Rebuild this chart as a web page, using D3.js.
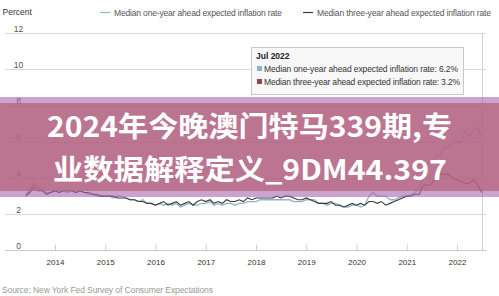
<!DOCTYPE html>
<html>
<head>
<meta charset="utf-8">
<script src="https://cdn.jsdelivr.net/npm/d3@7"></script>
<style>
  body { margin: 0; background: #fff; }
  svg { display: block; font-family: "Liberation Sans", Arial, sans-serif; }
</style>
</head>
<body>
<div id="chart"></div>
<script>
// monthly, Jun 2013 .. Jul 2022
var startMonth = new Date(2013, 5, 1);
var oneYear = [
  3.1, 3.3, 3.7, 3.5, 3.3, 3.2, 3.2,
  3.3, 3.2, 3.3, 3.2, 3.3, 3.2, 3.3, 3.2, 3.1, 3.1, 3.0, 3.0,
  3.0, 3.0, 2.9, 3.0, 3.0, 2.9, 2.8, 2.8, 2.7, 2.8, 2.6, 2.6,
  2.5, 2.6, 2.5, 2.6, 2.5, 2.6, 2.4, 2.5, 2.6, 2.5, 2.5, 2.6,
  2.6, 2.7, 2.5, 2.6, 2.5, 2.6, 2.6, 2.5, 2.6, 2.6, 2.7, 2.7,
  2.7, 2.8, 2.8, 2.8, 2.8, 2.8, 2.8, 2.8, 2.8, 2.7, 2.7, 2.7,
  2.8, 2.8, 2.8, 2.6, 2.6, 2.5, 2.6, 2.6, 2.5, 2.4, 2.4, 2.5,
  2.5, 2.4, 2.5, 3.0, 3.2, 3.0, 3.0, 3.0, 2.8, 2.8, 2.9, 3.0,
  3.0, 3.1, 3.2, 3.4, 4.0, 4.8, 4.8, 5.2, 5.3, 5.7, 5.7, 6.0,
  6.0, 6.0, 6.6, 6.3, 6.6, 6.8, 6.2
];
var threeYear = [
  3.0, 3.2, 3.5, 3.3, 3.3, 3.1, 3.2,
  3.3, 3.2, 3.3, 3.3, 3.3, 3.2, 3.3, 3.2, 3.2, 3.1, 3.1, 3.0,
  3.0, 3.0, 3.0, 2.9, 2.9, 2.9, 2.8, 2.8, 2.7, 2.7, 2.6, 2.6,
  2.5, 2.6, 2.7, 2.5, 2.6, 2.7, 2.5, 2.6, 2.7, 2.5, 2.7, 2.8,
  2.7, 2.8, 2.6, 2.7, 2.6, 2.8, 2.7, 2.7, 2.8, 2.7, 2.9, 2.8,
  2.9, 2.9, 2.9, 2.9, 2.9, 3.0, 2.9, 3.0, 3.0, 2.9, 2.8, 2.8,
  2.9, 2.8, 2.7, 2.6, 2.6, 2.6, 2.7, 2.5, 2.5, 2.4, 2.5, 2.6,
  2.5, 2.6, 2.5, 2.7, 2.7, 2.6, 2.7, 2.5, 2.6, 2.7, 2.8, 2.9,
  3.0, 3.0, 3.1, 3.1, 3.6, 3.6, 3.7, 4.0, 4.2, 4.2, 4.2, 4.0,
  3.9, 3.8, 3.7, 3.7, 3.9, 3.6, 3.2
];
var yTicks = [0, 2, 4, 6, 8, 10, 12];
var xYears = [2014, 2015, 2016, 2017, 2018, 2019, 2020, 2021, 2022];
var seriesNames = ["Median one-year ahead expected inflation rate", "Median three-year ahead expected inflation rate"];
var tipTitle = "Jul 2022";
var bannerLines = ["2024年今晚澳门特马339期,专", "业数据解释定义_9DM44.397"];

var width = 499, height = 296;
var svg = d3.select('#chart').append('svg').attr('width', width).attr('height', height);

var x = d3.scaleTime().domain([new Date(2014, 0, 1), new Date(2022, 0, 1)]).range([55, 457]);
var y = d3.scaleLinear().domain([0, 12]).range([250.5, 33]);
var left = 5, right = 486;

function monthDate(i) { return new Date(startMonth.getFullYear(), startMonth.getMonth() + i, 1); }

// gridlines + y labels
svg.selectAll('line.grid').data(yTicks.filter(function (d) { return d > 0; })).enter().append('line')
  .attr('x1', left).attr('x2', right)
  .attr('y1', function (d) { return Math.round(y(d)) + 0.5; })
  .attr('y2', function (d) { return Math.round(y(d)) + 0.5; })
  .style('stroke', '#d9d9d9');
svg.selectAll('text.ylab').data(yTicks).enter().append('text')
  .attr('x', 18.5).attr('y', function (d) { return y(d) - 1.5; })
  .attr('text-anchor', 'middle').style('font-size', '8.5px').style('fill', '#555')
  .text(function (d) { return d; });

// x axis
var xAxis = d3.axisBottom(x).tickValues(xYears.map(function (d) { return new Date(d, 0, 1); }))
  .tickSize(-6).tickPadding(9).tickFormat(d3.timeFormat('%Y'));
var ax = svg.append('g').attr('transform', 'translate(0,250.5)').call(xAxis);
ax.select('.domain').remove();
ax.append('line').attr('x1', left).attr('x2', right).style('stroke', '#c8c8c8');
ax.selectAll('.tick line').style('stroke', '#d0d0d0');
ax.selectAll('.tick text').style('font-size', '8px').style('fill', '#333')
  .style('font-family', '"Liberation Sans", Arial, sans-serif');

// crosshair
var lastX = x(monthDate(oneYear.length - 1));
svg.append('line').attr('x1', Math.round(lastX) + 0.5).attr('x2', Math.round(lastX) + 0.5)
  .attr('y1', 33).attr('y2', 250.5).style('stroke', '#cfcfcf');

// lines
var line = d3.line().x(function (d, i) { return x(monthDate(i)); }).y(function (d) { return y(d); });
svg.append('path').datum(oneYear).attr('d', line)
  .style('fill', 'none').style('stroke', '#8fb4cb').style('stroke-width', 1.3);
svg.append('path').datum(threeYear).attr('d', line)
  .style('fill', 'none').style('stroke', '#3b3b3b').style('stroke-width', 1.1);

// top texts
svg.append('text').attr('x', 2.5).attr('y', 15).style('font-size', '8.5px').style('fill', '#333').text('Percent');
var legX = [100, 303];
var legW = [168, 174];
var legColors = ['#8fb4cb', '#3b3b3b'];
seriesNames.forEach(function (n, i) {
  svg.append('line').attr('x1', legX[i]).attr('x2', legX[i] + 10).attr('y1', 12.5).attr('y2', 12.5)
    .style('stroke', legColors[i]).style('stroke-width', 1.2);
  svg.append('text').attr('x', legX[i] + 14).attr('y', 15.5).attr('textLength', legW[i])
    .style('font-size', '8.5px').style('fill', '#555').text(n);
});

// tooltip
var tip = svg.append('g');
tip.append('rect').attr('x', 251.5).attr('y', 47.5).attr('width', 212).attr('height', 47)
  .style('fill', '#f8f8f8').style('stroke', '#c9c9c9');
tip.append('text').attr('x', 256).attr('y', 59).style('font-size', '8.5px').style('font-weight', 'bold')
  .style('fill', '#222').text(tipTitle);
var tipVals = [oneYear[oneYear.length - 1], threeYear[threeYear.length - 1]];
var tipSq = ['#86b3d1', '#8a4747'];
var tipW = [194, 196];
seriesNames.forEach(function (n, i) {
  tip.append('rect').attr('x', 257).attr('y', 66 + i * 13).attr('width', 5).attr('height', 5).style('fill', tipSq[i]);
  tip.append('text').attr('x', 264).attr('y', 72 + i * 13).attr('textLength', tipW[i])
    .style('font-size', '8.5px').style('fill', '#333')
    .text(n + ': ' + d3.format('.1f')(tipVals[i]) + '%');
});

// source
svg.append('text').attr('x', 2).attr('y', 293).attr('textLength', 211)
  .style('font-size', '8.5px').style('fill', '#999')
  .text('Source: New York Fed Survey of Consumer Expectations');

// banner overlay
svg.append('rect').attr('x', 0).attr('y', 97).attr('width', width).attr('height', 100)
  .style('fill', 'rgb(170,100,175)').style('opacity', 0.6);
svg.append('rect').attr('x', 0).attr('y', 103).attr('width', width).attr('height', 88)
  .style('fill', 'rgb(180,100,120)').style('opacity', 0.72);
var bl = [{t: bannerLines[0], x: 47, y: 137, w: 405}, {t: bannerLines[1], x: 53, y: 180, w: 394}];
bl.forEach(function (b) {
  svg.append('text').attr('x', b.x).attr('y', b.y).attr('textLength', b.w).attr('lengthAdjust', 'spacingAndGlyphs')
    .style('font-family', '"Noto Sans CJK SC", sans-serif').style('font-weight', 'bold')
    .style('font-size', '28px').style('fill', '#fff').text(b.t);
});
</script>
</body>
</html>
